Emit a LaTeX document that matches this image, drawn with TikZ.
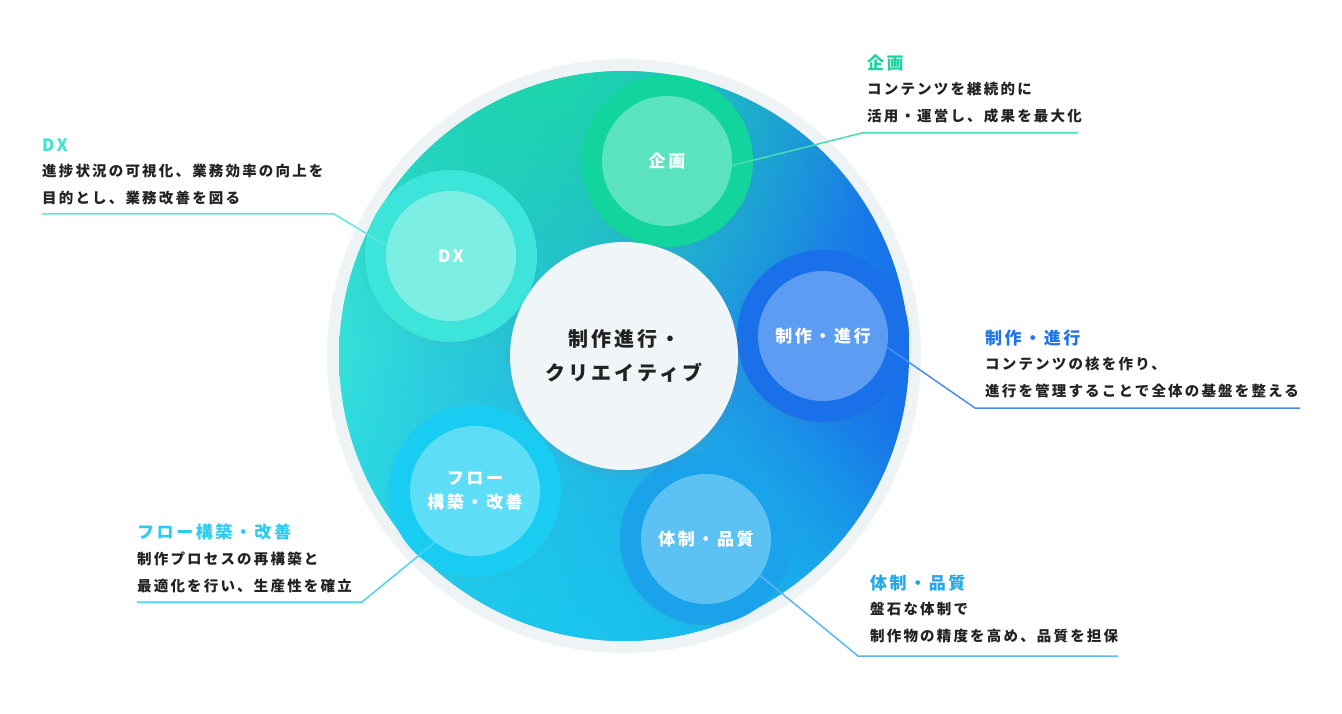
\documentclass[tikz,border=0pt]{standalone}
\usepackage{fontspec}
\setmainfont{Noto Sans CJK JP}[LetterSpace=15]
\usetikzlibrary{fadings,shadows}

\definecolor{ringgray}{HTML}{EEF3F6}
\definecolor{coregray}{HTML}{F0F5F7}
\definecolor{ink}{HTML}{222222}
\definecolor{aquabase}{HTML}{34E0DA}
\definecolor{midbase}{HTML}{1F9CE4}
\definecolor{bluebase}{HTML}{1670EA}
\definecolor{greenspot}{HTML}{1CD8A7}
\definecolor{cyanspot}{HTML}{18CAF0}
\definecolor{skyspot}{HTML}{18A6E8}
\definecolor{kikakuhalo}{HTML}{12D49D}
\definecolor{kikakuspot}{HTML}{5BE3BF}
\definecolor{kikakutitle}{HTML}{1CD3A0}
\definecolor{kikakuline}{HTML}{4ADCB3}
\definecolor{dxhalo}{HTML}{3CE4D9}
\definecolor{dxspot}{HTML}{7CEEE3}
\definecolor{dxtitle}{HTML}{3EE2D2}
\definecolor{dxline}{HTML}{62E6DC}
\definecolor{seisakuhalo}{HTML}{1A70E9}
\definecolor{seisakuspot}{HTML}{5C9CF2}
\definecolor{seisakutitle}{HTML}{1F74E8}
\definecolor{seisakuline}{HTML}{4B8DEB}
\definecolor{taiseihalo}{HTML}{1AA2EA}
\definecolor{taiseispot}{HTML}{5CC2F3}
\definecolor{taiseititle}{HTML}{22A7EA}
\definecolor{taiseiline}{HTML}{5AB8F0}
\definecolor{flowhalo}{HTML}{19CDF2}
\definecolor{flowspot}{HTML}{5EDEF6}
\definecolor{flowtitle}{HTML}{2CCBEF}
\definecolor{flowline}{HTML}{4AD4F1}

\tikzfading[name=spotfade, inner color=transparent!0, outer color=transparent!100]

\begin{document}
\begin{tikzpicture}
[x=1pt,y=-1pt,
  halodecorate/.style={shape=circle,minimum size=172pt,inner sep=0pt,
    circular drop shadow={shadow xshift=0pt,shadow yshift=-2pt,shadow scale=1.04,opacity=.15}},
  spotdecorate/.style={shape=circle,minimum size=130pt,inner sep=0pt,align=center,
    text=white,font=\bfseries\fontsize{17}{24}\selectfont},
  titledecorate/.style={anchor=west,inner sep=0pt,font=\bfseries\fontsize{17}{20}\selectfont},
  notedecorate/.style={anchor=north west,inner sep=0pt,align=left,text=ink,
    font=\bfseries\fontsize{14.5}{27}\selectfont},
  linedecorate/.style={-,line width=1.5pt}]
\useasboundingbox (0,0) rectangle (1342,714);
%% disc
\fill[ringgray] (624,356) circle (297);
\begin{scope}
  \clip (624,356) circle (285);
  \shade[left color=aquabase,middle color=midbase,right color=bluebase] (339,71) rectangle (909,641);
  \fill[skyspot,path fading=spotfade] (800,660) circle (260);
  \fill[cyanspot,path fading=spotfade] (560,700) circle (400);
  \fill[greenspot,path fading=spotfade] (550,50) circle (350);
\end{scope}
%% halos and spots
\foreach \nodename/\x/\y/\halo/\spot/\spottext in {kikaku/667/161/kikakuhalo/kikakuspot/企画,
  dx/451/256/dxhalo/dxspot/DX, seisaku/823/336/seisakuhalo/seisakuspot/制作・進行,
  taisei/706/539/taiseihalo/taiseispot/体制・品質,
  flow/475/491/flowhalo/flowspot/{フロー\\構築・改善}} {
  \node (\nodename-halo) at (\x,\y) [halodecorate,fill=\halo] {};
  \node (\nodename) at (\x,\y) [spotdecorate,fill=\spot] {\spottext};
}
\node (core) at (624,356) [shape=circle,minimum size=228pt,inner sep=0pt,fill=coregray,
  circular drop shadow={shadow xshift=0pt,shadow yshift=-3pt,shadow scale=1.05,opacity=.3},
  align=center,text=ink,font=\bfseries\fontsize{20}{34}\selectfont] {制作進行・\\クリエイティブ};
%% leaders
\foreach \nodename/\x/\y/\xend in {kikaku/862/133/1078, dx/334/214/42, seisaku/975/408/1300,
  taisei/858/656/1118, flow/362/602/137} {
  \coordinate (\nodename-bend) at (\x,\y);
  \coordinate (\nodename-end) at (\xend,\y);
}
\foreach \nodename/\angle/\col in {kikaku/-4/kikakuline, dx/171/dxline, seisaku/-10/seisakuline,
  taisei/-34/taiseiline, flow/-128/flowline} {
  \draw[linedecorate,\col] (\nodename.\angle) -- (\nodename-bend) -- (\nodename-end);
}
%% notes
\foreach \nodename/\x/\y/\col/\title/\body in {
  kikaku/867/63/kikakutitle/企画/{コンテンツを継続的に\\活用・運営し、成果を最大化},
  dx/42/145/dxtitle/DX/{進捗状況の可視化、業務効率の向上を\\目的とし、業務改善を図る},
  seisaku/985/338/seisakutitle/制作・進行/{コンテンツの核を作り、\\進行を管理することで全体の基盤を整える},
  flow/137/532/flowtitle/フロー構築・改善/{制作プロセスの再構築と\\最適化を行い、生産性を確立},
  taisei/870/583/taiseititle/体制・品質/{盤石な体制で\\制作物の精度を高め、品質を担保}} {
  \node (\nodename-title) at (\x,\y) [titledecorate,text=\col] {\title};
  \node (\nodename-note) at (\x,\y+19.3) [notedecorate] {\body};
}
\end{tikzpicture}
\end{document}
